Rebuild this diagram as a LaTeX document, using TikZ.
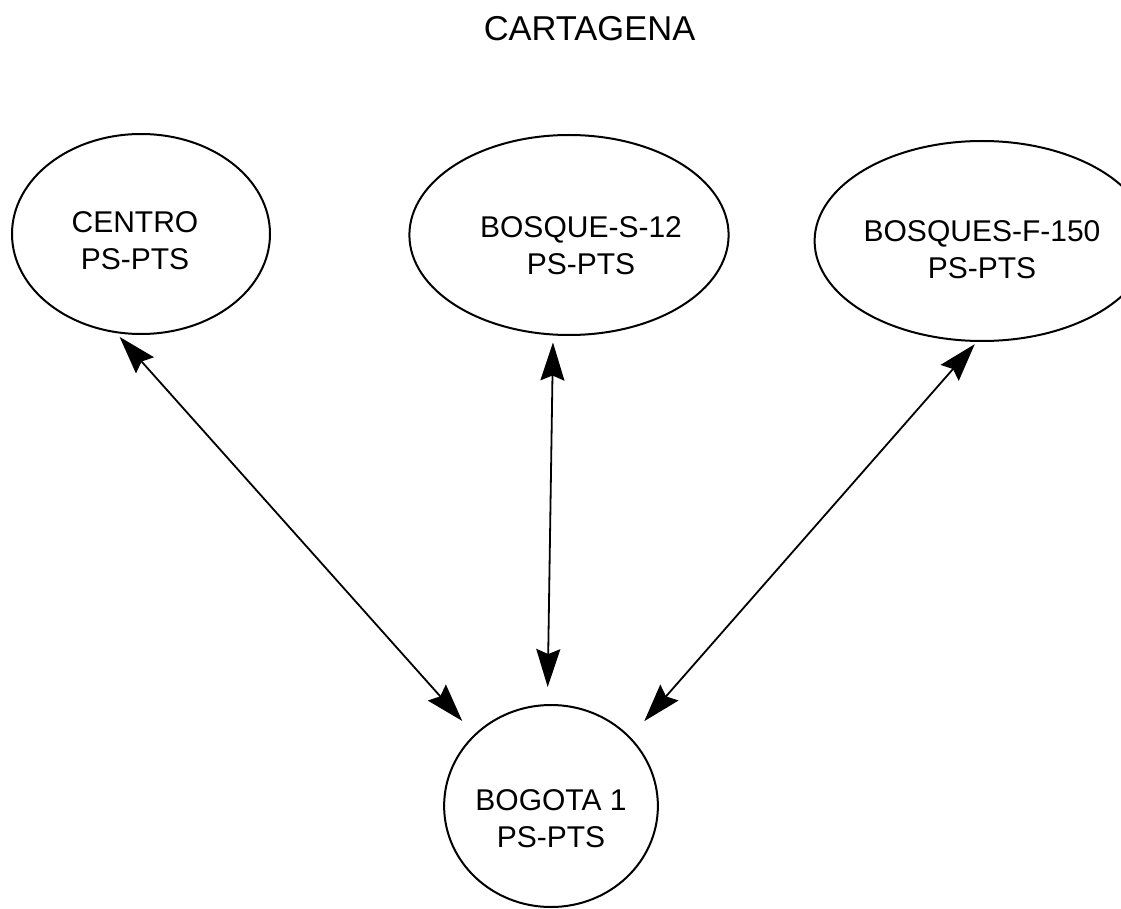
\documentclass[tikz,border=0pt]{standalone}
\usepackage{fontspec}
\setmainfont{Liberation Sans}
\usetikzlibrary{shapes.geometric,arrows.meta}
\newcommand\toplift[1]{\rule{0pt}{#1}}
\begin{document}
\begin{tikzpicture}[x=1pt,y=-1pt,
  station/.style={draw, ellipse, line width=2pt, inner sep=0pt, align=center,
    minimum width=258pt, minimum height=200pt,
    font=\fontsize{30pt}{37pt}\selectfont},
  tipshape/.style={},
  link/.style={{Stealth[length=38pt,width=24pt,inset=5pt]}-{Stealth[length=38pt,width=24pt,inset=5pt]}, line width=1.8pt}]
\useasboundingbox (0,0) rectangle (1121,909);
\node[font=\fontsize{34.5pt}{40pt}\selectfont, anchor=base, inner sep=0pt] (title) at (589.5,41) {CARTAGENA};
\node[station] (centro) at (141,234) {\toplift{33.5pt}CENTRO\hspace*{12pt}\\PS-PTS\hspace*{12pt}};
\node[station] (bosque) at (569,235) {\toplift{41.5pt}\hspace*{24pt}BOSQUE-S-12\\\hspace*{24pt}PS-PTS};
\node[station] (bosques) at (982,241) {\toplift{37.5pt}BOSQUES-F-150\\PS-PTS};
\node[station, minimum width=190pt, minimum height=202pt] (bogota) at (551,806) {\toplift{45.5pt}BOGOTA 1\\PS-PTS};
\draw[link, shorten <=5pt, shorten >=18pt] (centro.256) -- (bogota.137);
\draw[link, shorten <=7pt, shorten >=17pt] (bosque.261) -- (bogota.92);
\draw[link, shorten <=3pt, shorten >=21pt] (bosques.267) -- (bogota.41);
\end{tikzpicture}
\end{document}
